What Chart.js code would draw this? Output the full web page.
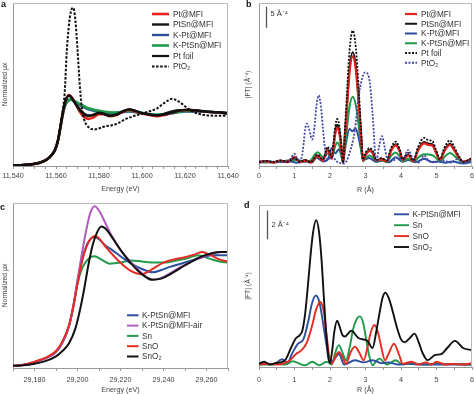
<!DOCTYPE html>
<html>
<head>
<meta charset="utf-8">
<script src="https://cdn.jsdelivr.net/npm/chart.js"></script>
<style>
  body { margin: 0; background: #fff; }
  #wrap { position: relative; width: 474px; height: 394px; overflow: hidden; font-family: 'Liberation Sans', Arial, sans-serif; }
  canvas { position: absolute; }
  .tag { position: absolute; font-weight: bold; font-size: 9px; color: #111; line-height: 1; }
</style>
</head>
<body>
<div id="wrap">
  <canvas id="cA" width="245" height="197" style="left:0;top:0"></canvas>
  <canvas id="cB" width="237" height="197" style="left:237px;top:0"></canvas>
  <canvas id="cC" width="245" height="197" style="left:0;top:197px"></canvas>
  <canvas id="cD" width="237" height="197" style="left:237px;top:197px"></canvas>
  <div class="tag" style="left:1px;top:0px">a</div>
  <div class="tag" style="left:246px;top:0px">b</div>
  <div class="tag" style="left:0px;top:203px">c</div>
  <div class="tag" style="left:244px;top:201px">d</div>
</div>
<script>
// ---- panel a : Pt L3 edge XANES ----
const aLabels = ['Pt@MFI', 'PtSn@MFI', 'K-Pt@MFI', 'K-PtSn@MFI', 'Pt foil', 'PtO₂'];
const aPtMFI = [[11540,0],[11545,0.01],[11550,0.03],[11553,0.06],[11556,0.12],[11558,0.2],[11559.5,0.29],[11561,0.49],[11562,0.72],[11563,0.96],[11564,1.16],[11565,1.28],[11566,1.33],[11567,1.3],[11569,1.17],[11571,1.02],[11573,0.92],[11575,0.88],[11577,0.9],[11580,0.97],[11582,0.97],[11585,0.93],[11588,0.95],[11591,1.01],[11594,1.05],[11597,1.02],[11600,0.98],[11604,0.95],[11607,0.93],[11610,0.95],[11614,1.0],[11618,1.04],[11622,1.05],[11627,1.03],[11632,1.01],[11636,1.0],[11640,0.98]];
const aPtSnMFI = [[11540,0],[11545,0.01],[11550,0.03],[11553,0.06],[11556,0.12],[11558,0.2],[11559.5,0.29],[11561,0.49],[11562,0.72],[11563,0.96],[11564,1.16],[11565,1.28],[11566,1.32],[11567,1.29],[11569,1.17],[11571,1.05],[11573,0.97],[11575,0.94],[11578,0.96],[11580,0.99],[11582,0.98],[11585,0.94],[11588,0.96],[11591,1.02],[11594,1.06],[11597,1.03],[11600,0.99],[11604,0.96],[11607,0.95],[11610,0.96],[11614,1.0],[11618,1.04],[11622,1.05],[11627,1.03],[11632,1.01],[11636,1.0],[11640,0.98]];
const aKPtMFI = [[11540,0],[11545,0.01],[11550,0.03],[11553,0.06],[11556,0.12],[11558,0.2],[11559.5,0.29],[11561,0.48],[11562,0.7],[11563,0.92],[11564,1.1],[11565,1.19],[11566,1.23],[11567,1.24],[11569,1.19],[11572,1.12],[11575,1.06],[11578,1.03],[11582,1.01],[11586,0.99],[11590,1.0],[11594,1.02],[11598,1.0],[11602,0.97],[11606,0.95],[11610,0.96],[11615,0.99],[11620,1.02],[11626,1.02],[11632,1.01],[11640,0.99]];
const aKPtSnMFI = [[11540,0],[11545,0.01],[11550,0.03],[11553,0.06],[11556,0.12],[11558,0.2],[11559.5,0.29],[11561,0.48],[11562,0.7],[11563,0.93],[11564,1.12],[11565,1.2],[11566,1.24],[11567,1.25],[11569,1.21],[11572,1.14],[11575,1.08],[11578,1.05],[11582,1.02],[11586,1.0],[11590,1.01],[11594,1.03],[11598,1.01],[11602,0.98],[11606,0.96],[11610,0.97],[11615,1.0],[11620,1.03],[11626,1.03],[11632,1.01],[11640,0.99]];
const aPtFoil = [[11540,0],[11545,0.01],[11550,0.03],[11553,0.06],[11556,0.12],[11558,0.2],[11559.5,0.29],[11561,0.49],[11562,0.72],[11563,0.96],[11564,1.16],[11565,1.28],[11566,1.32],[11567,1.3],[11568,1.24],[11570,1.12],[11572,1.02],[11574,0.96],[11576,0.94],[11578,0.97],[11580,1.0],[11582,0.98],[11585,0.94],[11588,0.96],[11591,1.02],[11594,1.06],[11597,1.03],[11600,0.99],[11603,0.97],[11606,0.95],[11609,0.96],[11612,1.0],[11616,1.04],[11620,1.05],[11625,1.04],[11630,1.02],[11635,1.01],[11640,0.99]];
const aPtO2 = [[11540,0],[11545,0.01],[11550,0.03],[11553,0.06],[11556,0.12],[11558,0.2],[11559.5,0.29],[11561,0.48],[11562,0.72],[11563,1.0],[11564,1.35],[11565,2.15],[11566,2.65],[11567,2.92],[11568,2.98],[11569,2.75],[11570,2.2],[11571,1.55],[11572,1.1],[11573,0.88],[11574,0.78],[11576,0.7],[11578,0.68],[11580,0.7],[11583,0.74],[11586,0.76],[11589,0.8],[11592,0.87],[11596,0.93],[11600,0.98],[11604,1.03],[11607,1.08],[11611,1.2],[11614,1.26],[11617,1.21],[11620,1.12],[11623,1.03],[11626,0.98],[11630,0.95],[11635,0.94],[11640,0.94]];

// ---- panel b : Pt FT-EXAFS ----
const bLabels = ['Pt@MFI', 'PtSn@MFI', 'K-Pt@MFI', 'K-PtSn@MFI', 'Pt foil', 'PtO₂'];
const bPtMFI = [[0,0.4],[0.2,0.6],[0.4,0.3],[0.6,0.7],[0.8,0.4],[1.0,1.7],[1.15,0.4],[1.3,0.8],[1.45,0.3],[1.65,1.9],[1.8,0.8],[1.93,3.3],[2.05,1.2],[2.1,4],[2.15,7.2],[2.2,8.6],[2.26,7.4],[2.31,4.4],[2.37,0.3],[2.42,6.5],[2.48,13.7],[2.55,21.8],[2.64,25.6],[2.73,22.2],[2.8,15.4],[2.87,7.3],[2.93,0.8],[3.0,2.1],[3.12,3.1],[3.22,2.3],[3.3,0.7],[3.45,1.1],[3.6,0.6],[3.72,3.1],[3.85,4.4],[3.96,3.0],[4.05,0.9],[4.2,2.0],[4.35,0.6],[4.48,3.2],[4.65,4.9],[4.78,4.5],[4.88,4.4],[4.98,2.8],[5.1,0.9],[5.22,3.0],[5.38,4.5],[5.5,3.2],[5.62,1.6],[5.75,0.5],[6,1.2]];
const bPtSnMFI = [[0,0.5],[0.2,0.7],[0.4,0.4],[0.6,0.8],[0.8,0.5],[1.0,1.5],[1.15,0.5],[1.3,0.9],[1.45,0.4],[1.65,2.0],[1.8,0.9],[1.93,3.5],[2.05,1.3],[2.1,4.3],[2.15,7.8],[2.2,9.3],[2.26,8.0],[2.31,4.8],[2.37,0.3],[2.42,6.8],[2.48,14.3],[2.55,22.7],[2.64,26.6],[2.73,23.1],[2.8,16],[2.87,7.6],[2.93,0.9],[3.0,2.2],[3.12,3.3],[3.22,2.4],[3.3,0.8],[3.45,1.2],[3.6,0.7],[3.72,3.3],[3.85,4.7],[3.96,3.2],[4.05,1.0],[4.2,2.2],[4.35,0.7],[4.48,3.4],[4.65,5.2],[4.78,4.8],[4.88,4.7],[4.98,3.0],[5.1,1.0],[5.22,3.2],[5.38,4.8],[5.5,3.4],[5.62,1.7],[5.75,0.5],[6,1.3]];
const bKPtMFI = [[0,0.4],[0.5,0.4],[0.9,0.6],[1.05,0.3],[1.35,0.6],[1.5,0.4],[1.62,1.5],[1.8,0.6],[1.95,1.2],[2.05,3.8],[2.15,2.5],[2.25,3.5],[2.37,0.8],[2.45,5],[2.55,8.3],[2.63,7.8],[2.72,8.4],[2.8,6.5],[2.87,3.5],[2.93,0.9],[3.1,1.4],[3.3,0.5],[3.5,0.8],[3.65,0.4],[3.85,1.6],[4.05,0.5],[4.2,0.9],[4.4,0.4],[4.65,1.2],[4.9,0.4],[5.05,0.6],[5.25,0.3],[5.45,0.6],[5.75,0.1],[6,0.5]];
const bKPtSnMFI = [[0,0.4],[0.5,0.5],[1.0,0.9],[1.3,0.6],[1.45,0.8],[1.57,2.2],[1.65,2.8],[1.73,2.2],[1.8,1.6],[1.93,2.5],[2.05,1.6],[2.1,2.8],[2.15,4.3],[2.2,5.1],[2.26,4.4],[2.31,2.6],[2.37,0.3],[2.42,4.0],[2.48,8.6],[2.55,13.6],[2.64,16],[2.73,13.9],[2.8,9.6],[2.87,4.6],[2.93,0.6],[3.0,1.4],[3.12,2.0],[3.22,1.4],[3.3,0.5],[3.45,0.9],[3.6,0.4],[3.72,1.9],[3.85,2.7],[3.96,1.8],[4.05,0.6],[4.2,1.2],[4.35,0.5],[4.5,1.6],[4.65,2.3],[4.9,2.0],[5.0,1.3],[5.1,0.6],[5.24,1.8],[5.38,2.6],[5.52,1.8],[5.75,0.4],[6,1.0]];
const bPtFoil = [[0,0.5],[0.2,0.7],[0.4,0.4],[0.6,0.8],[0.8,0.5],[1.0,1.4],[1.15,0.5],[1.3,0.9],[1.45,0.4],[1.65,2.2],[1.8,1.0],[1.93,4.1],[2.05,1.6],[2.1,5],[2.15,9],[2.2,10.7],[2.26,9.2],[2.31,5.5],[2.37,0.3],[2.42,8],[2.48,17],[2.55,27],[2.64,31.7],[2.73,27.5],[2.8,19],[2.87,9],[2.93,1.0],[3.0,2.6],[3.12,3.8],[3.22,2.8],[3.3,0.9],[3.45,1.4],[3.6,0.8],[3.72,3.8],[3.85,5.3],[3.96,3.6],[4.05,1.1],[4.2,2.6],[4.35,0.8],[4.48,4.0],[4.65,6.2],[4.78,5.6],[4.88,5.5],[4.98,3.5],[5.1,1.1],[5.22,3.8],[5.38,5.6],[5.5,4.0],[5.62,2.0],[5.75,0.5],[6,1.4]];
const bPtO2 = [[0,0.5],[0.3,0.6],[0.6,0.4],[0.85,0.8],[1.0,2.4],[1.1,1.0],[1.2,1.5],[1.26,5],[1.3,8.3],[1.35,9.6],[1.41,8.3],[1.5,5.8],[1.56,8.5],[1.62,14],[1.68,16.3],[1.74,14],[1.8,8.5],[1.86,3.5],[1.95,1.0],[2.05,1.8],[2.2,0.5],[2.4,0.1],[2.6,4.0],[2.7,8],[2.8,15.5],[2.9,20.2],[2.99,21.8],[3.1,20.5],[3.2,12.0],[3.3,0.5],[3.38,4],[3.46,6.6],[3.54,4],[3.6,1.5],[3.75,0.6],[3.9,1.5],[4.05,1.0],[4.2,3.3],[4.35,1.0],[4.5,0.3],[4.65,2.0],[4.8,0.6],[5.0,0.5],[5.2,0.8],[5.4,0.3],[5.6,1.2],[5.8,0.4],[6,0.9]];

// ---- panel c : Sn K edge XANES ----
const cLabels = ['K-PtSn@MFI', 'K-PtSn@MFI-air', 'Sn', 'SnO', 'SnO₂'];
const cKPtSn = [[29170,0.01],[29175,0.02],[29180,0.045],[29185,0.08],[29190,0.14],[29193,0.23],[29196,0.38],[29198,0.56],[29200,0.8],[29202,1.0],[29204,1.13],[29206,1.2],[29208,1.22],[29210,1.2],[29213,1.14],[29216,1.1],[29220,1.04],[29225,0.97],[29230,0.92],[29235,0.89],[29239,0.91],[29243,0.94],[29248,0.97],[29253,1.0],[29258,1.03],[29263,1.05],[29270,1.05]];
const cKPtSnAir = [[29170,0.01],[29175,0.02],[29180,0.045],[29185,0.08],[29190,0.14],[29193,0.23],[29196,0.38],[29198,0.57],[29200,0.82],[29202,1.06],[29204,1.28],[29206,1.45],[29208,1.51],[29210,1.47],[29213,1.35],[29216,1.23],[29220,1.1],[29225,0.98],[29230,0.88],[29234,0.82],[29238,0.83],[29243,0.88],[29248,0.94],[29253,0.99],[29258,1.03],[29263,1.07],[29267,1.08],[29270,1.08]];
const cSn = [[29170,0.01],[29175,0.02],[29180,0.045],[29185,0.08],[29190,0.14],[29193,0.23],[29196,0.38],[29198,0.56],[29200,0.78],[29202,0.92],[29204,0.99],[29206,1.03],[29208,1.04],[29211,1.01],[29215,0.97],[29220,0.98],[29225,1.0],[29230,0.99],[29236,0.98],[29241,0.98],[29246,1.0],[29251,1.02],[29256,1.05],[29261,1.02],[29266,0.99],[29270,0.98]];
const cSnO = [[29170,0.01],[29175,0.02],[29180,0.05],[29185,0.085],[29190,0.15],[29193,0.24],[29196,0.39],[29198,0.56],[29200,0.78],[29202,0.98],[29204,1.12],[29206,1.2],[29208,1.23],[29210,1.21],[29213,1.13],[29217,1.04],[29221,0.96],[29225,0.9],[29230,0.87],[29234,0.91],[29240,0.98],[29245,1.01],[29250,1.03],[29255,1.06],[29258,1.08],[29262,1.05],[29266,1.01],[29270,0.99]];
const cSnO2 = [[29170,0.01],[29175,0.015],[29180,0.03],[29185,0.055],[29190,0.1],[29193,0.15],[29196,0.22],[29199,0.36],[29201,0.52],[29203,0.72],[29205,0.95],[29207,1.14],[29209,1.26],[29211,1.32],[29213,1.3],[29216,1.22],[29220,1.1],[29225,0.97],[29230,0.87],[29235,0.82],[29239,0.83],[29243,0.87],[29248,0.93],[29253,0.99],[29258,1.04],[29263,1.07],[29267,1.08],[29270,1.08]];

// ---- panel d : Sn FT-EXAFS ----
const dLabels = ['K-PtSn@MFI', 'Sn', 'SnO', 'SnO₂'];
const dKPtSn = [[0,0.1],[0.2,0.15],[0.4,0.05],[0.65,0.42],[0.8,0.2],[0.95,0.9],[1.1,1.5],[1.25,1.8],[1.4,3.2],[1.48,4.2],[1.6,4.85],[1.7,4.4],[1.8,3.0],[1.9,1.4],[1.98,0.2],[2.12,0.4],[2.25,0.8],[2.4,0.05],[2.7,0.35],[2.95,0.2],[3.2,0.35],[3.45,0.15],[3.65,0.2],[3.9,0.05],[4.2,0.1],[4.6,0.05],[5.0,0.05],[6,0.05]];
const dSn = [[0,0.05],[0.3,0.05],[0.5,0.1],[0.75,0.05],[0.95,0.28],[1.15,0.1],[1.3,0.0],[1.5,0.25],[1.7,0.0],[1.9,0.25],[2.05,0.05],[2.15,0.9],[2.25,1.4],[2.35,0.9],[2.45,0.35],[2.55,1.2],[2.65,2.5],[2.75,3.2],[2.84,3.4],[2.93,3.0],[3.02,1.8],[3.1,0.7],[3.2,0.0],[3.3,0.3],[3.4,0.46],[3.5,0.25],[3.6,0.05],[3.85,0.35],[4.05,0.05],[4.3,0.15],[4.6,0.05],[5.0,0.1],[6,0.05]];
const dSnO = [[0,0.05],[0.3,0.1],[0.55,0.05],[0.7,0.15],[0.85,0.3],[1.05,0.8],[1.2,1.05],[1.35,1.6],[1.5,2.8],[1.6,3.8],[1.72,4.4],[1.82,3.8],[1.9,2.2],[1.98,0.6],[2.05,0.1],[2.15,0.6],[2.25,0.93],[2.35,0.6],[2.45,0.1],[2.58,0.9],[2.7,1.3],[2.82,0.9],[2.95,0.35],[3.05,1.2],[3.15,2.3],[3.25,2.8],[3.35,2.3],[3.45,1.2],[3.55,0.35],[3.65,0.8],[3.8,1.5],[3.95,0.7],[4.05,0.1],[4.3,0.25],[4.5,0.05],[4.7,0.2],[4.85,0.05],[5.0,0.25],[5.25,0.05],[5.5,0.1],[5.75,0.05],[6,0.15]];
const dSnO2 = [[0,0.1],[0.15,0.25],[0.3,0.05],[0.45,0.15],[0.6,0.2],[0.75,0.4],[0.9,1.2],[1.03,1.85],[1.15,2.1],[1.22,2.4],[1.3,3.6],[1.38,5.6],[1.45,7.6],[1.52,9.2],[1.61,10.1],[1.69,9.3],[1.76,7.4],[1.83,4.6],[1.9,2.0],[2.0,0.15],[2.06,1.0],[2.12,2.3],[2.2,3.1],[2.27,2.7],[2.35,2.1],[2.42,2.0],[2.6,2.4],[2.8,1.9],[3.05,1.7],[3.2,1.2],[3.3,2.3],[3.4,3.7],[3.48,4.7],[3.56,5.05],[3.65,4.7],[3.75,3.9],[3.9,2.5],[4.0,1.8],[4.1,1.6],[4.25,1.9],[4.38,2.2],[4.5,1.6],[4.6,0.9],[4.75,0.35],[4.95,0.7],[5.15,0.8],[5.3,1.2],[5.52,1.7],[5.75,1.2],[6,1.05]];

const FONT = "'Liberation Sans', Arial, sans-serif";
Chart.defaults.font.family = FONT;
Chart.defaults.color = '#444';
Chart.defaults.animation = false;

function line(label, pts, color, width, dash, order) {
  return {
    label: label,
    data: pts.map(p => ({ x: p[0], y: p[1] })),
    borderColor: color,
    backgroundColor: color,
    borderWidth: width,
    borderDash: dash || [],
    pointRadius: 0,
    cubicInterpolationMode: 'monotone',
    fill: false,
    order: order
  };
}

// frame, legend and scale bar drawn on top of each panel
const extras = {
  id: 'extras',
  afterDraw(chart, args, opts) {
    const ctx = chart.ctx;
    const a = chart.chartArea;
    ctx.save();
    ctx.strokeStyle = '#b8b8b8';
    ctx.lineWidth = 1;
    ctx.beginPath();
    ctx.moveTo(a.left, a.top + 0.5);
    ctx.lineTo(a.right - 0.5, a.top + 0.5);
    ctx.lineTo(a.right - 0.5, a.bottom);
    ctx.stroke();

    const lg = opts.legend;
    if (lg) {
      ctx.font = lg.size + 'px ' + FONT;
      ctx.textBaseline = 'middle';
      ctx.textAlign = 'left';
      chart.data.datasets.forEach((ds, i) => {
        const y = lg.y + i * lg.dy;
        ctx.strokeStyle = ds.borderColor;
        ctx.lineWidth = ds.borderWidth;
        ctx.setLineDash(ds.borderDash);
        ctx.beginPath();
        ctx.moveTo(lg.x, y);
        ctx.lineTo(lg.x + lg.len, y);
        ctx.stroke();
        ctx.setLineDash([]);
        ctx.fillStyle = '#333';
        ctx.fillText(ds.label, lg.x + lg.len + lg.gap, y + 0.5);
      });
    }

    const bar = opts.bar;
    if (bar) {
      const xs = chart.scales.x, ys = chart.scales.y;
      const px = Math.round(xs.getPixelForValue(bar.x)) + 0.5;
      const y1 = ys.getPixelForValue(bar.y0);
      const y2 = ys.getPixelForValue(bar.y0 + bar.len);
      ctx.strokeStyle = '#555';
      ctx.lineWidth = 1.3;
      ctx.beginPath();
      ctx.moveTo(px, y1);
      ctx.lineTo(px, y2);
      ctx.stroke();
      ctx.fillStyle = '#333';
      ctx.font = '7.5px ' + FONT;
      ctx.textBaseline = 'middle';
      ctx.fillText(bar.text, px + 4, y2 + bar.ty);
    }
    ctx.restore();
  }
};

function makePanel(id, p) {
  return new Chart(document.getElementById(id), {
    type: 'line',
    data: { datasets: p.datasets },
    plugins: [extras],
    options: {
      responsive: false,
      layout: { padding: { left: 0, top: p.top, right: p.right, bottom: 0 } },
      plugins: {
        legend: { display: false },
        tooltip: { enabled: false },
        extras: { legend: p.legend, bar: p.bar }
      },
      scales: {
        x: {
          type: 'linear',
          min: p.xmin,
          max: p.xmax,
          afterFit: s => { s.height = p.xh; s.paddingLeft = 0; s.paddingRight = 0; },
          border: { color: '#999', width: 1 },
          grid: { drawOnChartArea: false, tickLength: 3, color: '#999' },
          ticks: {
            stepSize: p.step,
            autoSkip: false,
            maxRotation: 0,
            padding: p.tickPad,
            color: '#444',
            font: { size: 7.2 },
            callback: v => {
              const k = v / p.labelEvery;
              if (Math.abs(k - Math.round(k)) > 1e-6) return '';
              return p.fmt(v);
            }
          },
          title: { display: true, text: p.xTitle, color: '#444', font: { size: 7.2 }, padding: { top: 0, bottom: p.xTitlePad } }
        },
        y: {
          min: p.ymin,
          max: p.ymax,
          afterFit: s => { s.width = p.yw; s.paddingTop = 0; s.paddingBottom = 0; },
          border: { color: '#999', width: 1 },
          grid: { display: false },
          ticks: { display: false },
          title: { display: true, text: p.yTitle, color: '#444', font: { size: 6.8 }, padding: { top: p.yTitlePad, bottom: 0 } }
        }
      }
    }
  });
}

const thousands = v => v.toLocaleString('en-US');
const plain = v => String(Math.round(v));
const dot = [2.5, 1.6];

makePanel('cA', {
  datasets: [
    line(aLabels[0], aPtMFI, '#e3241f', 2.6, null, 3),
    line(aLabels[1], aPtSnMFI, '#151515', 2.4, null, 2),
    line(aLabels[2], aKPtMFI, '#2b4fa0', 2.4, null, 5),
    line(aLabels[3], aKPtSnMFI, '#1c9a48', 2.6, null, 4),
    line(aLabels[4], aPtFoil, '#111', 2.2, null, 1),
    line(aLabels[5], aPtO2, '#111', 2, dot, 0)
  ],
  top: 3, right: 17, xh: 31, yw: 13,
  xmin: 11540, xmax: 11640, step: 5, labelEvery: 20, fmt: thousands,
  ymin: -0.01, ymax: 3.07,
  tickPad: 2.4, xTitle: 'Energy (eV)', xTitlePad: 3.4,
  yTitle: 'Normalized μx', yTitlePad: 0.9,
  legend: { x: 152, y: 14, dy: 10.5, len: 17, gap: 4, size: 8.2 }
});

makePanel('cB', {
  datasets: [
    line(bLabels[0], bPtMFI, '#e3241f', 2.2, null, 2),
    line(bLabels[1], bPtSnMFI, '#151515', 2, null, 3),
    line(bLabels[2], bKPtMFI, '#2b4fa0', 2, null, 5),
    line(bLabels[3], bKPtSnMFI, '#1c9a48', 2, null, 4),
    line(bLabels[4], bPtFoil, '#111', 1.8, [2, 1.5], 0),
    line(bLabels[5], bPtO2, '#4646ab', 1.8, [2, 1.5], 1)
  ],
  top: 3, right: 2, xh: 31, yw: 22,
  xmin: 0, xmax: 6, step: 0.5, labelEvery: 1, fmt: plain,
  ymin: -0.5, ymax: 38.3,
  tickPad: 2.4, xTitle: 'R (Å)', xTitlePad: 2.7,
  yTitle: '|FT| (Å⁻⁴)', yTitlePad: 6.6,
  legend: { x: 168, y: 14, dy: 9.75, len: 12, gap: 4, size: 8.2 },
  bar: { x: 0.2, y0: 32.4, len: 5, text: '5 Å⁻⁴', ty: 7.5 }
});

makePanel('cC', {
  datasets: [
    line(cLabels[0], cKPtSn, '#2d4f9e', 2, null, 3),
    line(cLabels[1], cKPtSnAir, '#b05cbf', 2, null, 2),
    line(cLabels[2], cSn, '#229a4b', 2, null, 4),
    line(cLabels[3], cSnO, '#e52b22', 2, null, 1),
    line(cLabels[4], cSnO2, '#111', 2, null, 0)
  ],
  top: 6, right: 17, xh: 26, yw: 13,
  xmin: 29170, xmax: 29270, step: 10, labelEvery: 20, fmt: thousands,
  ymin: -0.01, ymax: 1.54,
  tickPad: 4.7, xTitle: 'Energy (eV)', xTitlePad: 0,
  yTitle: 'Normalized μx', yTitlePad: 0.9,
  legend: { x: 127, y: 118.3, dy: 10.3, len: 11.5, gap: 3.5, size: 8.2 }
});

makePanel('cD', {
  datasets: [
    line(dLabels[0], dKPtSn, '#2d4f9e', 1.9, null, 2),
    line(dLabels[1], dSn, '#229a4b', 1.9, null, 3),
    line(dLabels[2], dSnO, '#e52b22', 1.9, null, 1),
    line(dLabels[3], dSnO2, '#111', 1.9, null, 0)
  ],
  top: 8, right: 2, xh: 27, yw: 22,
  xmin: 0, xmax: 6, step: 0.5, labelEvery: 1, fmt: plain,
  ymin: -0.12, ymax: 11.15,
  tickPad: 5.4, xTitle: 'R (Å)', xTitlePad: 0,
  yTitle: '|FT| (Å⁻⁴)', yTitlePad: 6.6,
  legend: { x: 157, y: 17.3, dy: 10.9, len: 15, gap: 3.5, size: 8.2 },
  bar: { x: 0.23, y0: 8.77, len: 2, text: '2 Å⁻⁴', ty: 14.3 }
});
</script>
</body>
</html>
